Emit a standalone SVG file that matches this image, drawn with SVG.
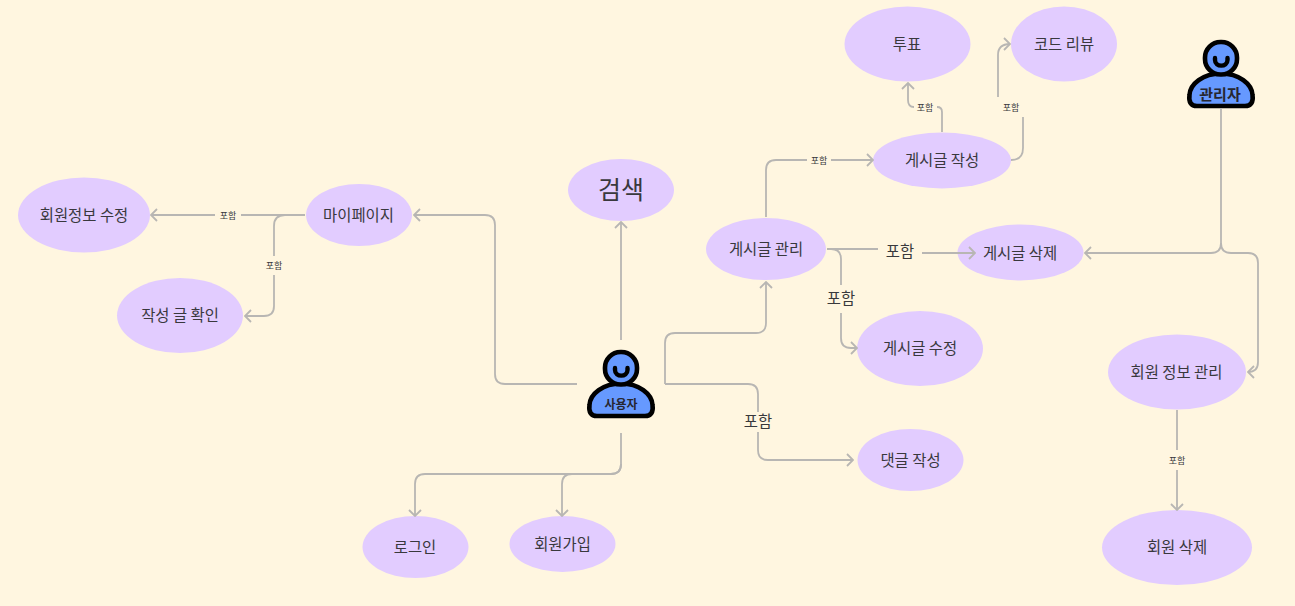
<svg xmlns="http://www.w3.org/2000/svg" width="1295" height="606" viewBox="0 0 1295 606">
<style>
text{font-family:"Noto Sans CJK KR","Noto Sans",sans-serif;fill:#37373b;text-anchor:middle;dominant-baseline:central;opacity:.99}
.n{font-size:15.4px}
.s{font-size:9px}
.m{font-size:15.4px}
.e{fill:#E2CCFF}
.c{fill:none;stroke:#b8b6b3;stroke-width:1.8}
.p{fill:#6699FF;stroke:#000;stroke-width:4.6;stroke-linejoin:round}
.u{fill:none;stroke:#000;stroke-width:4.4;stroke-linecap:round}
.l{font-weight:700;fill:#26262e}
</style>
<defs>
<marker id="a" viewBox="0 0 12 14" markerWidth="12" markerHeight="14" refX="11" refY="7" orient="auto" markerUnits="userSpaceOnUse"><path d="M5 1L11 7L5 13" fill="none" stroke="#b8b6b3" stroke-width="1.8"/></marker>
<g id="person">
<path class="p" d="M-31.500 36C-31 25-18 14.500 0 14.500C18 14.500 31 25 31.500 36C32.500 43 30 47 24 47H-24C-30 47-32.500 43-31.500 36Z"/>
<rect class="p" x="-16" y="-17" width="32" height="32.500" rx="15.500" ry="15.500"/>
<path class="u" d="M-6-1V1C-6 8.500 6.500 8.500 6.500 1V-1"/>
</g>
</defs>
<rect width="1295" height="606" fill="#FFF6E0"/>
<g id="search"><ellipse class="e" cx="621" cy="190" rx="53" ry="31"/><text x="621" y="188" font-size="25">검색</text></g>
<g id="mypage"><ellipse class="e" cx="359" cy="215" rx="53" ry="31"/><text class="n" x="358.500" y="214">마이페이지</text></g>
<g id="edit-profile"><ellipse class="e" cx="84" cy="215" rx="66" ry="37.500"/><text class="n" x="84" y="214">회원정보 수정</text></g>
<g id="my-posts"><ellipse class="e" cx="180" cy="315.500" rx="63" ry="37.500"/><text class="n" x="180" y="314">작성 글 확인</text></g>
<g id="login"><ellipse class="e" cx="415.500" cy="547" rx="53" ry="31"/><text class="n" x="415" y="546">로그인</text></g>
<g id="signup"><ellipse class="e" cx="562.500" cy="544" rx="53" ry="28"/><text class="n" x="562.500" y="542.500">회원가입</text></g>
<g id="post-manage"><ellipse class="e" cx="766" cy="249" rx="60" ry="31"/><text class="n" x="766" y="248">게시글 관리</text></g>
<g id="post-write"><ellipse class="e" cx="942" cy="160.500" rx="69" ry="28"/><text class="n" x="942" y="159">게시글 작성</text></g>
<g id="vote"><ellipse class="e" cx="907.500" cy="44" rx="63" ry="37.500"/><text class="n" x="907" y="42.500">투표</text></g>
<g id="code-review"><ellipse class="e" cx="1064" cy="44" rx="53" ry="37.500"/><text class="n" x="1064" y="42.500">코드 리뷰</text></g>
<g id="post-delete"><ellipse class="e" cx="1020.500" cy="252.500" rx="63" ry="28"/><text class="n" x="1020" y="251.500">게시글 삭제</text></g>
<g id="post-edit"><ellipse class="e" cx="920" cy="348.500" rx="63" ry="37.500"/><text class="n" x="920" y="347">게시글 수정</text></g>
<g id="comment"><ellipse class="e" cx="910.500" cy="460" rx="53" ry="31"/><text class="n" x="910.500" y="458.500">댓글 작성</text></g>
<g id="member-manage"><ellipse class="e" cx="1177" cy="372" rx="69" ry="37.500"/><text class="n" x="1176.500" y="370.500">회원 정보 관리</text></g>
<g id="member-delete"><ellipse class="e" cx="1177" cy="547.500" rx="75" ry="37.500"/><text class="n" x="1177" y="546">회원 삭제</text></g>
<g id="user"><use href="#person" x="621" y="369"/><text class="l" x="621" y="403" font-size="12">사용자</text></g>
<g id="admin"><use href="#person" x="1221" y="59"/><text class="l" x="1220" y="93" font-size="15">관리자</text></g>
<g id="connectors">
<path class="c" marker-end="url(#a)" d="M577 384H505Q495 384 495 374V225Q495 215 485 215H414"/>
<path class="c" marker-end="url(#a)" d="M621 340V222"/>
<path class="c" marker-end="url(#a)" d="M665 384V343Q665 333 675 333H756Q766 333 766 323V282"/>
<path class="c" d="M665 384H748Q758 384 758 394V412"/>
<path class="c" marker-end="url(#a)" d="M758 432V450Q758 460 768 460H853"/>
<path class="c" marker-end="url(#a)" d="M621 433V464Q621 474 611 474H425Q415 474 415 484V516"/>
<path class="c" marker-end="url(#a)" d="M621 464Q621 474 611 474H572Q562 474 562 484V516"/>
<path class="c" d="M766 217V170Q766 160 776 160H807"/>
<path class="c" marker-end="url(#a)" d="M831 160H873"/>
<path class="c" d="M827 249H878"/>
<path class="c" marker-end="url(#a)" d="M922 253H975"/>
<path class="c" d="M827 249H831Q841 249 841 259V285"/>
<path class="c" marker-end="url(#a)" d="M841 313V338Q841 348 851 348H857"/>
<path class="c" d="M942 132V112Q942 107 937 107"/>
<path class="c" marker-end="url(#a)" d="M914 107Q908 107 908 100V83"/>
<path class="c" d="M1011 160Q1023 160 1023 148V117"/>
<path class="c" marker-end="url(#a)" d="M998 97V55Q998 44 1010 44"/>
<path class="c" marker-end="url(#a)" d="M1221 108V243Q1221 253 1211 253H1085"/>
<path class="c" marker-end="url(#a)" d="M1221 243Q1221 253 1231 253H1248Q1258 253 1258 263V362Q1258 372 1248 372"/>
<path class="c" d="M1177 410V450"/>
<path class="c" marker-end="url(#a)" d="M1177 470V510"/>
<path class="c" d="M305 215H241"/>
<path class="c" marker-end="url(#a)" d="M215 215H151"/>
<path class="c" d="M305 215H285Q274 215 274 226V256"/>
<path class="c" marker-end="url(#a)" d="M274 275V306Q274 316 264 316H245"/>
<text class="s" x="819" y="160">포함</text>
<text class="m" x="900" y="250">포함</text>
<text class="m" x="841" y="297">포함</text>
<text class="s" x="925" y="107">포함</text>
<text class="s" x="1011" y="107">포함</text>
<text class="m" x="758" y="420">포함</text>
<text class="s" x="1177" y="460">포함</text>
<text class="s" x="228" y="215">포함</text>
<text class="s" x="274" y="265">포함</text>
</g>
</svg>
